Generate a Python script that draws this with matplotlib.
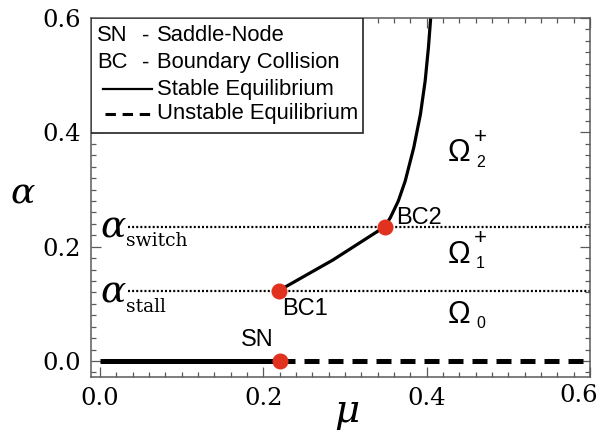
import matplotlib
matplotlib.use("Agg")
import matplotlib.pyplot as plt
from matplotlib.lines import Line2D
from matplotlib.patches import Rectangle
from matplotlib.ticker import MultipleLocator

# bifurcation data
alpha_stall = 0.123
alpha_switch = 0.2346
mu_sn = 0.22
mu_max = 0.6

stable_mu = [0.2192, 0.2852, 0.3484, 0.3554, 0.3652, 0.3737, 0.3842, 0.3924, 0.3982, 0.4022, 0.4050]
stable_alpha = [0.1233, 0.1767, 0.2346, 0.2504, 0.2795, 0.3146, 0.3732, 0.4316, 0.4900, 0.5486, 0.6010]

points_mu = [mu_sn, 0.2192, 0.3484]
points_alpha = [0.0, alpha_stall, alpha_switch]

regions_sub = ["2", "1", "0"]
regions_sup = ["+", "+", ""]
regions_alpha = [0.349, 0.172, 0.067]
regions_mu = 0.44

x_ticks = [0.0, 0.2, 0.4, 0.6]
y_ticks = [0.0, 0.2, 0.4, 0.6]

legend_rows = ["Saddle-Node", "Boundary Collision", "Stable Equilibrium", "Unstable Equilibrium"]
legend_keys = ["SN", "BC", None, None]

red = "#e1321f"
gray = "#5a5a5a"
sans = "Liberation Sans"
serif = "DejaVu Serif"

fig = plt.figure(figsize=(6.02, 4.34), dpi=100)
ax = fig.add_axes([0.1512, 0.1313, 0.8288, 0.8272])

# stable / unstable equilibrium at alpha = 0
ax.plot([0, mu_sn], [0, 0], color="black", lw=3.6, solid_capstyle="butt")
ax.plot([mu_sn, mu_max], [0, 0], color="black", lw=3.6, dashes=(3.0, 1.8))

# threshold lines
dots = (0, (0.9, 0.95))
ax.plot([0.034, mu_max], [alpha_stall, alpha_stall], color="black", lw=1.6, ls=dots)
ax.plot([0.034, mu_max], [alpha_switch, alpha_switch], color="black", lw=1.6, ls=dots)

# stable branch through BC1 and BC2
ax.plot(stable_mu, stable_alpha, color="black", lw=2.3, solid_joinstyle="round")

ax.plot(points_mu, points_alpha, "o", color=red, ms=10.5, zorder=5, clip_on=False)

ax.text(0.193, 0.036, "SN", fontsize=17, family=sans, ha="center", va="center")
ax.text(0.223, 0.091, "BC1", fontsize=17, family=sans, ha="left", va="center")
ax.text(0.363, 0.251, "BC2", fontsize=17, family=sans, ha="left", va="center")

for sub, sup, a in zip(regions_sub, regions_sup, regions_alpha):
    ax.text(regions_mu, a, "Ω", fontsize=22, family=sans, ha="center", va="baseline")
    ax.annotate(sub, (regions_mu, a), xytext=(12.2, -0.4), textcoords="offset points",
                fontsize=11.5, family=sans, ha="left", va="center")
    if sup:
        ax.annotate(sup, (regions_mu, a), xytext=(10.8, 17.3), textcoords="offset points",
                    fontsize=16, family=sans, ha="left", va="center")

# alpha_switch / alpha_stall labels
for sub, a in zip(["switch", "stall"], [0.2175, 0.1035]):
    ax.text(0.0, a, r"$\alpha$", fontsize=27, ha="left", va="baseline",
            math_fontfamily="dejavuserif")
    ax.text(0.032, a - 0.017, sub, fontsize=13.5, family=serif, ha="left", va="baseline")

ax.set_xlim(-0.011, 0.6)
ax.set_ylim(-0.028, 0.6)

ax.set_xticks(x_ticks)
ax.set_yticks(y_ticks)
ax.xaxis.set_minor_locator(MultipleLocator(0.02))
ax.yaxis.set_minor_locator(MultipleLocator(0.02))
ax.tick_params(which="both", direction="in", top=True, right=True, color=gray, width=0.9)
ax.tick_params(which="major", length=7)
ax.tick_params(which="minor", length=3.5)
ax.tick_params(labelsize=17.5, pad=7, labelfontfamily=serif)
# the last x label is drawn separately, pulled in so it stays on the canvas
ax.set_xticklabels([f"{v:.1f}" for v in x_ticks[:-1]] + [""])
ax.set_yticklabels([f"{v:.1f}" for v in y_ticks])
ax.annotate(f"{x_ticks[-1]:.1f}", (x_ticks[-1], 0), xycoords=("data", "axes fraction"),
            xytext=(-8, -5), textcoords="offset points", ha="center", va="top",
            fontsize=17.5, family=serif)
for s in ax.spines.values():
    s.set_color(gray)
    s.set_linewidth(1.1)

ax.set_xlabel(r"$\mu$", fontsize=28, math_fontfamily="dejavuserif")
ax.xaxis.set_label_coords(0.513, -0.124)
ax.xaxis.label.set_va("baseline")
ax.set_ylabel(r"$\alpha$", fontsize=26, math_fontfamily="dejavuserif", rotation=0)
ax.yaxis.set_label_coords(-0.137, 0.515)
ax.yaxis.label.set_va("center")
ax.yaxis.label.set_ha("center")

# legend box drawn by hand
ax.add_patch(Rectangle((0, 0.68), 0.545, 0.32, transform=ax.transAxes, facecolor="white",
                       edgecolor="#222222", lw=1.2, zorder=6))
rows_y = [0.950, 0.875, 0.802, 0.733]
for key, label, y in zip(legend_keys, legend_rows, rows_y):
    if key is not None:
        ax.text(0.012, y, key, transform=ax.transAxes, fontsize=15.8, family=sans,
                va="center", zorder=7)
        ax.text(0.103, y, "-", transform=ax.transAxes, fontsize=15.8, family=sans,
                va="center", zorder=7)
    ax.text(0.132, y, label, transform=ax.transAxes, fontsize=15.8, family=sans,
            va="center", zorder=7)
ax.add_line(Line2D([0.024, 0.123], [rows_y[2], rows_y[2]], transform=ax.transAxes,
                   color="black", lw=1.6, zorder=7))
ax.add_line(Line2D([0.028, 0.123], [rows_y[3], rows_y[3]], transform=ax.transAxes,
                   color="black", lw=2.2, dashes=(3.4, 2.2), zorder=7))

fig.savefig("out.png", dpi=100)
